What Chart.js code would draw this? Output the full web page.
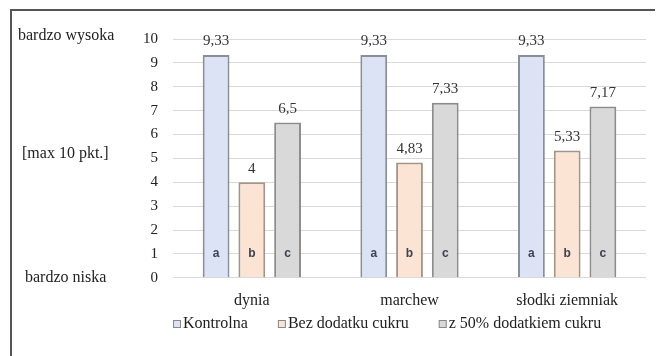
<!DOCTYPE html>
<html>
<head>
<meta charset="utf-8">
<script src="https://cdn.jsdelivr.net/npm/chart.js@4"></script>
<style>
  body { margin: 0; background: #fff; }
  #wrap { width: 657px; height: 356px; }
</style>
</head>
<body>
<div id="wrap"><canvas id="sensoryChart" width="657" height="356"></canvas></div>
<script>
// Data
const categories = ['dynia', 'marchew', 'słodki ziemniak'];
const seriesNames = ['Kontrolna', 'Bez dodatku cukru', 'z 50% dodatkiem cukru'];
const kontrolna = [9.33, 9.33, 9.33];
const bezCukru = [4, 4.83, 5.33];
const zCukrem = [6.5, 7.33, 7.17];
const groupLetters = ['a', 'b', 'c'];
const yTicks = [0, 1, 2, 3, 4, 5, 6, 7, 8, 9, 10];
const sideLabels = ['bardzo wysoka', '[max 10 pkt.]', 'bardzo niska'];

const serif = '"Liberation Serif", "Times New Roman", serif';
const fills = ['#dbe3f4', '#fbe4d4', '#d9d9d9'];
const borders = ['#8a8e99', '#a39488', '#8c8c8c'];

// Polish decimal comma
function fmt(v) {
    return String(v).replace('.', ',');
}

// Values above bars + letters inside bars
const barLabels = {
    id: 'barLabels',
    afterDatasetsDraw(chart) {
        const ctx = chart.ctx;
        const yScale = chart.scales.y;
        ctx.save();
        chart.data.datasets.forEach((ds, i) => {
            const meta = chart.getDatasetMeta(i);
            meta.data.forEach((bar, j) => {
                ctx.fillStyle = '#333';
                ctx.font = '15px ' + serif;
                ctx.textAlign = 'center';
                ctx.textBaseline = 'bottom';
                ctx.fillText(fmt(ds.data[j]), bar.x, bar.y - 6);
                ctx.fillStyle = '#3b4454';
                ctx.font = 'bold 12px "Liberation Sans", Arial, sans-serif';
                ctx.textBaseline = 'middle';
                ctx.fillText(groupLetters[i], bar.x, yScale.getPixelForValue(1));
            });
        });
        ctx.restore();
    }
};

// Side texts, hand-made legend and the frame lines
const sideText = {
    id: 'sideText',
    afterDraw(chart) {
        const ctx = chart.ctx;
        const y = chart.scales.y;
        const area = chart.chartArea;
        ctx.save();
        ctx.fillStyle = '#222';
        ctx.font = '16px ' + serif;
        ctx.textAlign = 'left';
        ctx.textBaseline = 'middle';
        ctx.fillText(sideLabels[0], 18, y.getPixelForValue(10) - 3);
        ctx.fillText(sideLabels[1], 22, y.getPixelForValue(5.2));
        ctx.fillText(sideLabels[2], 25, y.getPixelForValue(0));

        // legend
        let lx = area.left;
        const ly = 324;
        chart.data.datasets.forEach((ds) => {
            ctx.fillStyle = ds.backgroundColor;
            ctx.fillRect(lx, ly - 4, 8, 8);
            ctx.strokeStyle = '#888';
            ctx.lineWidth = 1;
            ctx.strokeRect(lx + 0.5, ly - 3.5, 7, 7);
            ctx.fillStyle = '#222';
            ctx.fillText(ds.label, lx + 10, ly);
            lx += 10 + ctx.measureText(ds.label).width + 30;
        });

        ctx.strokeStyle = '#555';
        ctx.lineWidth = 2;
        ctx.beginPath();
        ctx.moveTo(11, 356);
        ctx.lineTo(11, 10);
        ctx.lineTo(655, 10);
        ctx.stroke();
        ctx.restore();
    }
};

const datasetValues = [kontrolna, bezCukru, zCukrem];

new Chart(document.getElementById('sensoryChart'), {
    type: 'bar',
    data: {
        labels: categories,
        datasets: datasetValues.map((vals, i) => ({
            label: seriesNames[i],
            data: vals,
            backgroundColor: fills[i],
            borderColor: borders[i],
            borderWidth: 2,
            barPercentage: 0.75,
            categoryPercentage: 0.68
        }))
    },
    options: {
        responsive: false,
        animation: false,
        layout: { padding: { left: 128, right: 11, top: 39, bottom: 41 } },
        plugins: {
            legend: { display: false },
            tooltip: { enabled: false }
        },
        scales: {
            x: {
                grid: { display: false },
                border: { display: false },
                ticks: { color: '#222', font: { family: serif, size: 16 }, padding: 5 }
            },
            y: {
                min: 0,
                max: 10,
                afterBuildTicks(axis) {
                    axis.ticks = yTicks.map(v => ({ value: v }));
                },
                grid: { color: '#d9d9d9', drawTicks: false },
                border: { display: false },
                ticks: { color: '#222', font: { family: serif, size: 15 }, padding: 15 }
            }
        }
    },
    plugins: [barLabels, sideText]
});
</script>
</body>
</html>
